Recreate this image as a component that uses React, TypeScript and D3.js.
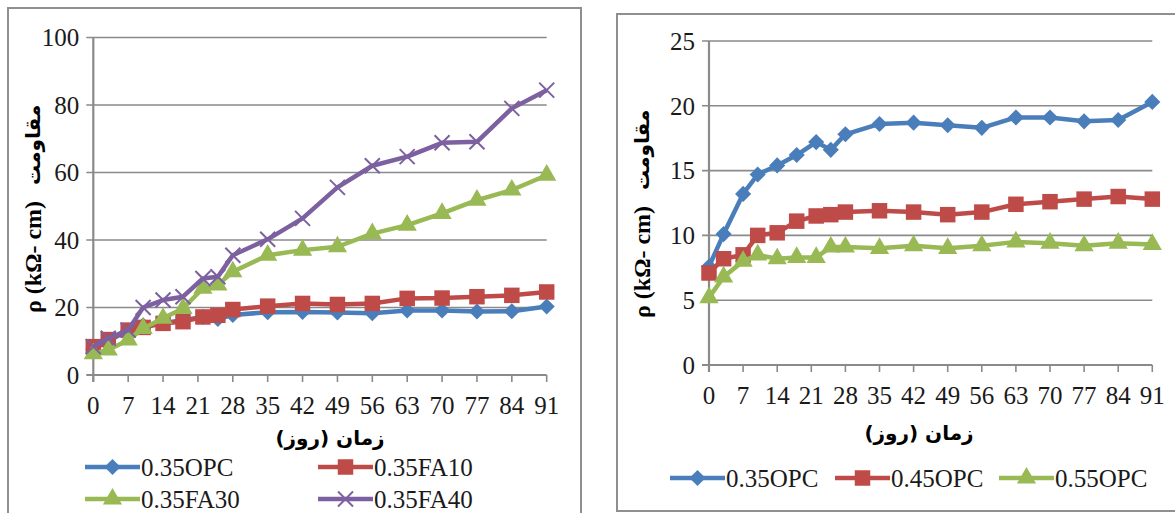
import React, { useEffect, useRef } from "react";
import * as d3 from "d3";

// days of measurement (x values)
const days = [0, 3, 7, 10, 14, 18, 22, 25, 28, 35, 42, 49, 56, 63, 70, 77, 84, 91];
const dayTicks = [0, 7, 14, 21, 28, 35, 42, 49, 56, 63, 70, 77, 84, 91];

// resistivity, kOhm-cm
const opc035 = [7.6, 10.1, 13.2, 14.7, 15.4, 16.2, 17.2, 16.6, 17.8, 18.6, 18.7, 18.5, 18.3, 19.1, 19.1, 18.8, 18.9, 20.3];
const opc045 = [7.1, 8.2, 8.5, 10.0, 10.2, 11.1, 11.5, 11.6, 11.8, 11.9, 11.8, 11.6, 11.8, 12.4, 12.6, 12.8, 13.0, 12.8];
const opc055 = [5.2, 6.8, 8.0, 8.5, 8.2, 8.3, 8.3, 9.1, 9.1, 9.0, 9.2, 9.0, 9.2, 9.5, 9.4, 9.2, 9.4, 9.3];
const fa10 = [8.4, 10.5, 13.3, 14.1, 15.3, 15.8, 17.2, 17.7, 19.4, 20.4, 21.2, 20.9, 21.2, 22.7, 22.8, 23.2, 23.6, 24.6];
const fa30 = [6.3, 7.4, 10.4, 13.8, 16.8, 19.7, 25.7, 26.7, 30.6, 35.5, 37.0, 38.0, 41.9, 44.4, 47.9, 51.8, 54.8, 59.2];
const fa40 = [8.4, 10.9, 13.3, 20.0, 22.2, 23.2, 28.6, 29.1, 35.5, 40.2, 46.4, 55.6, 62.0, 64.7, 68.8, 69.1, 79.0, 84.4];

const leftTicks = [0, 20, 40, 60, 80, 100];
const rightTicks = [0, 5, 10, 15, 20, 25];

const BLUE = "#4a7ebb";
const RED = "#be4b48";
const GREEN = "#98b954";
const PURPLE = "#7d60a0";
const GRID = "#8a8a8a";
const SERIF = "'Liberation Serif', 'Times New Roman', serif";
const ARABIC = "'DejaVu Sans', sans-serif";

const markerPath = (kind) => {
  if (kind === "diamond") return d3.symbol(d3.symbolSquare, 130)();
  if (kind === "square") return d3.symbol(d3.symbolSquare, 240)();
  if (kind === "triangle") return d3.symbol(d3.symbolTriangle, 160)();
  return "M-7.5,-7.5L7.5,7.5M-7.5,7.5L7.5,-7.5";
};

function drawChart(svg, cfg) {
  const g = svg.append("g");
  const x = d3.scaleLinear().domain([0, 91]).range(cfg.xRange);
  const y = d3.scaleLinear().domain([0, cfg.yMax]).range(cfg.yRange);

  // frame
  g.append("rect")
    .attr("x", cfg.frame[0]).attr("y", cfg.frame[1])
    .attr("width", cfg.frame[2]).attr("height", cfg.frame[3])
    .attr("fill", "white").attr("stroke", "#8f8f8f").attr("stroke-width", 2);

  // gridlines + y ticks
  g.selectAll(".grid").data(cfg.yTicks).join("line")
    .attr("x1", cfg.xRange[0] - 7).attr("x2", cfg.xRange[1])
    .attr("y1", (d) => y(d)).attr("y2", (d) => y(d))
    .attr("stroke", GRID).attr("stroke-width", (d) => (d === 0 ? 2.2 : 1.6));
  g.append("line")
    .attr("x1", cfg.xRange[0]).attr("x2", cfg.xRange[0])
    .attr("y1", y(cfg.yMax)).attr("y2", y(0) + 7)
    .attr("stroke", GRID).attr("stroke-width", 2.2);
  g.selectAll(".xtick").data(dayTicks).join("line")
    .attr("x1", (d) => x(d)).attr("x2", (d) => x(d))
    .attr("y1", y(0)).attr("y2", y(0) + 7)
    .attr("stroke", GRID).attr("stroke-width", 1.6);

  g.selectAll(".ylab").data(cfg.yTicks).join("text")
    .attr("x", cfg.xRange[0] - 14).attr("y", (d) => y(d))
    .attr("dy", "0.35em").attr("text-anchor", "end")
    .style("font-family", SERIF).style("font-size", "25px").attr("fill", "#1a1a1a")
    .text((d) => d);
  g.selectAll(".xlab").data(dayTicks).join("text")
    .attr("x", (d) => x(d)).attr("y", cfg.xLabY)
    .attr("dy", "0.35em").attr("text-anchor", "middle")
    .style("font-family", SERIF).style("font-size", "25px").attr("fill", "#1a1a1a")
    .text((d) => d);

  // axis titles
  g.append("text")
    .attr("x", cfg.xTitle[0]).attr("y", cfg.xTitle[1]).attr("dy", "0.35em")
    .attr("text-anchor", "middle")
    .style("font-family", ARABIC).style("font-size", "20px").style("font-weight", "bold")
    .text("زمان (روز)");
  const yt = g.append("g").attr("transform", `translate(${cfg.yTitle[0]},${cfg.yTitle[1]}) rotate(-90)`);
  yt.append("text").attr("x", 0).attr("dy", "0.35em").attr("text-anchor", "start")
    .style("font-family", SERIF).style("font-size", "24px").style("font-weight", "bold")
    .text("ρ (kΩ- cm)");
  yt.append("text").attr("x", 128).attr("dy", "0.35em").attr("text-anchor", "start")
    .style("font-family", ARABIC).style("font-size", "20px").style("font-weight", "bold")
    .text("مقاومت");

  // series
  const line = d3.line().x((d) => x(d[0])).y((d) => y(d[1]));
  cfg.series.forEach((s) => {
    const pts = days.map((d, i) => [d, s.values[i]]);
    g.append("path").datum(pts).attr("d", line)
      .attr("fill", "none").attr("stroke", s.color).attr("stroke-width", 4.5)
      .attr("stroke-linejoin", "round");
    g.selectAll(null).data(pts).join("path")
      .attr("transform", (d) => `translate(${x(d[0])},${y(d[1])})${s.marker === "diamond" ? " rotate(45)" : ""}`)
      .attr("d", markerPath(s.marker))
      .attr("fill", s.marker === "x" ? "none" : s.color)
      .attr("stroke", s.color).attr("stroke-width", s.marker === "x" ? 2 : 0);
  });

  // legend
  cfg.series.forEach((s) => {
    const lx = s.legend[0];
    const ly = s.legend[1];
    g.append("line").attr("x1", lx).attr("x2", lx + 55).attr("y1", ly).attr("y2", ly)
      .attr("stroke", s.color).attr("stroke-width", 4.5);
    g.append("path")
      .attr("transform", `translate(${lx + 27.5},${ly})${s.marker === "diamond" ? " rotate(45)" : ""}`)
      .attr("d", markerPath(s.marker))
      .attr("fill", s.marker === "x" ? "none" : s.color)
      .attr("stroke", s.color).attr("stroke-width", s.marker === "x" ? 2 : 0);
    g.append("text").attr("x", lx + 56).attr("y", ly).attr("dy", "0.35em")
      .style("font-family", SERIF).style("font-size", "25px").attr("fill", "#1a1a1a")
      .text(s.name);
  });
}

export default function App() {
  const ref = useRef(null);
  useEffect(() => {
    const svg = d3.select(ref.current);
    svg.selectAll("*").remove();
    svg.append("rect").attr("width", 1175).attr("height", 513).attr("fill", "white");

    drawChart(svg, {
      frame: [8, 8, 573, 530],
      xRange: [93.3, 546.7],
      yRange: [375, 37.5],
      yMax: 100,
      yTicks: leftTicks,
      xLabY: 405,
      xTitle: [330, 438],
      yTitle: [33, 313],
      series: [
        { name: "0.35OPC", values: opc035, color: BLUE, marker: "diamond", legend: [85, 467] },
        { name: "0.35FA10", values: fa10, color: RED, marker: "square", legend: [318, 467] },
        { name: "0.35FA30", values: fa30, color: GREEN, marker: "triangle", legend: [85, 499] },
        { name: "0.35FA40", values: fa40, color: PURPLE, marker: "x", legend: [318, 499] },
      ],
    });

    drawChart(svg, {
      frame: [617, 14, 580, 497],
      xRange: [709, 1152.3],
      yRange: [365, 41],
      yMax: 25,
      yTicks: rightTicks,
      xLabY: 395,
      xTitle: [919, 433],
      yTitle: [642, 318],
      series: [
        { name: "0.35OPC", values: opc035, color: BLUE, marker: "diamond", legend: [670, 478] },
        { name: "0.45OPC", values: opc045, color: RED, marker: "square", legend: [835, 478] },
        { name: "0.55OPC", values: opc055, color: GREEN, marker: "triangle", legend: [999, 478] },
      ],
    });
  }, []);

  return (
    <svg
      ref={ref}
      width={1175}
      height={513}
      style={{ position: "absolute", left: 0, top: 0 }}
    />
  );
}
